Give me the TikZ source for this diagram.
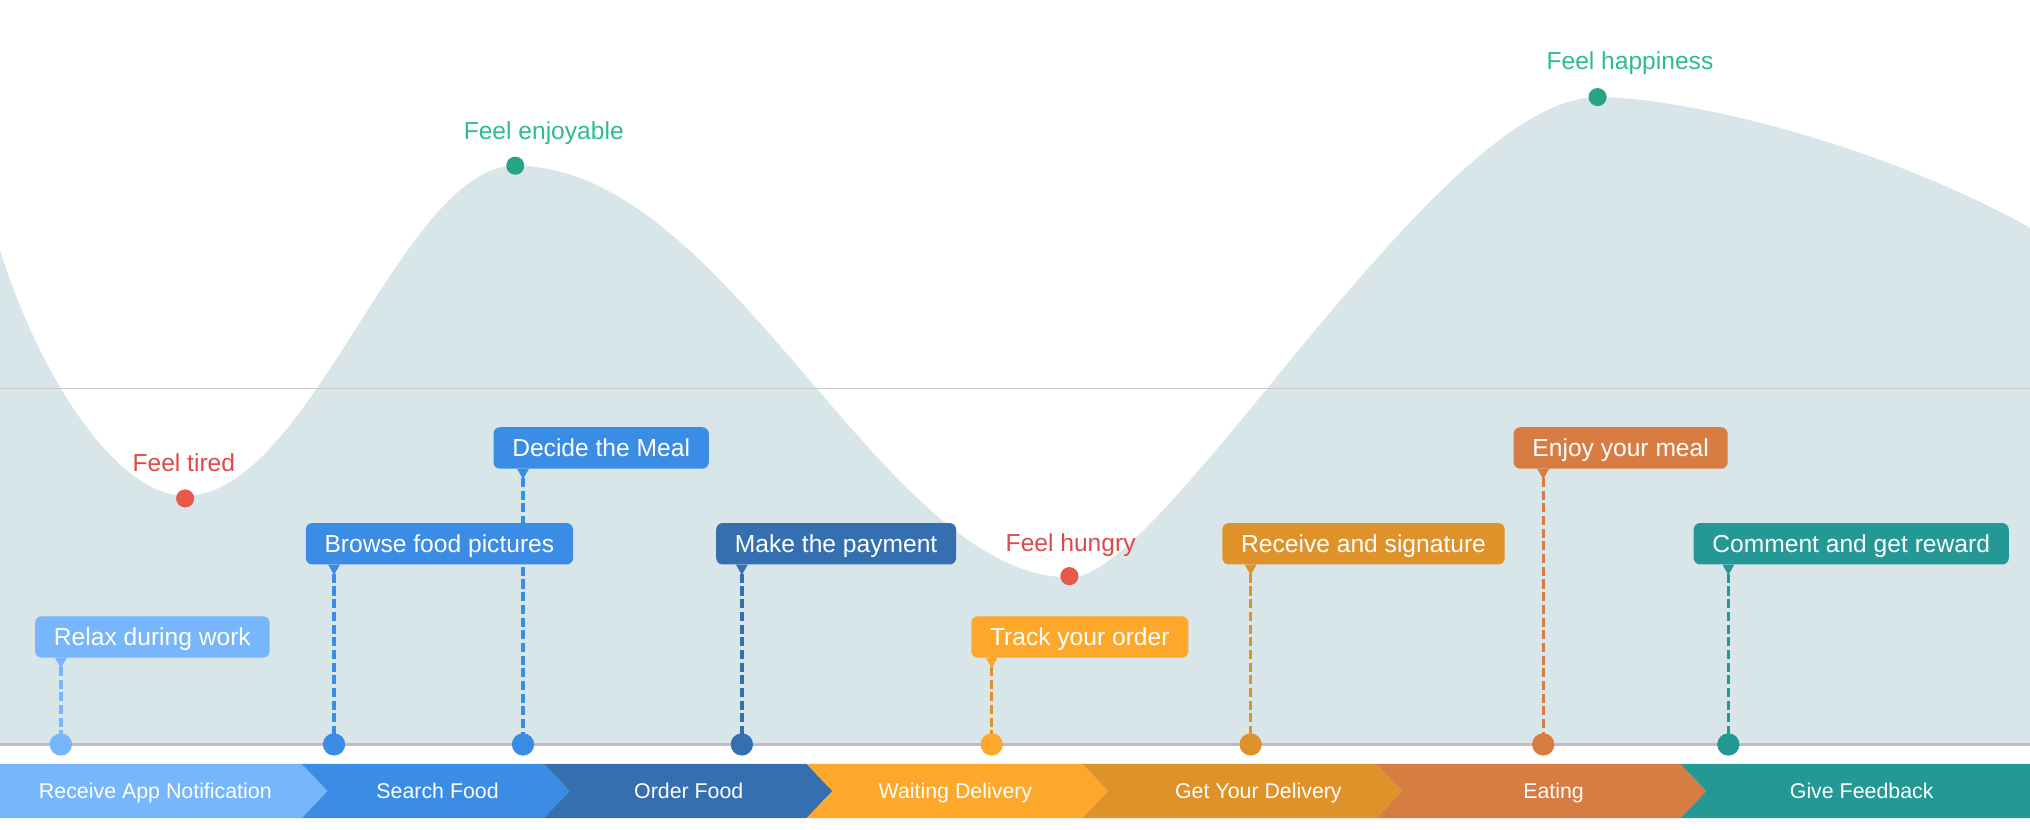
\documentclass[tikz,border=0pt]{standalone}
\usepackage{fontspec}
\setmainfont{Liberation Sans}
\definecolor{cArea}{HTML}{D8E6EA}
\definecolor{cMid}{HTML}{CBC6C9}
\definecolor{cTime}{HTML}{C5B8C2}
\definecolor{cA}{HTML}{77B6FA}
\definecolor{cB}{HTML}{3B8CE5}
\definecolor{cC}{HTML}{356FAF}
\definecolor{cD}{HTML}{FDA82B}
\definecolor{cE}{HTML}{E0922A}
\definecolor{cF}{HTML}{D77C42}
\definecolor{cG}{HTML}{239894}
\definecolor{cRed}{HTML}{E8594A}
\definecolor{cRedT}{HTML}{E04848}
\definecolor{cGreen}{HTML}{26A586}
\definecolor{cGreenT}{HTML}{2EBB92}
\begin{document}
\begin{tikzpicture}[x=1pt,y=-1pt,
  bubble/.style={fill=#1, text=white, rounded corners=5pt, anchor=west,
    minimum height=32pt, inner xsep=14.5pt, inner ysep=0pt,
    text height=13.2pt, text depth=0pt,
    font=\fontsize{19}{22}\selectfont},
  dot/.style={circle, fill=#1, minimum size=17pt, inner sep=0pt},
  vline/.style={draw=#1, line width=2.6pt, dash pattern=on 7pt off 2.8pt},
  bandtext/.style={text=white, anchor=base, font=\fontsize{16.5}{20}\selectfont},
  feel/.style={text=#1, anchor=base, font=\fontsize{19}{22}\selectfont},
]
\useasboundingbox (0,0) rectangle (1568,641);
% emotion area
\fill[cArea] (0,575) -- (0,193)
  .. controls (30,290) and (90,383) .. (143,383)
  .. controls (240,383) and (310,128) .. (398,128)
  .. controls (564,128) and (680,446) .. (827,446)
  .. controls (900,446) and (1110,75) .. (1234,75)
  .. controls (1300,75) and (1450,110) .. (1568,176)
  -- (1568,575) -- cycle;
\draw[cMid, line width=1.2pt] (0,300) -- (1568,300);
\draw[cTime, line width=2.6pt] (0,575) -- (1568,575);

% emotion points
\node[dot=cRed, minimum size=14pt] (e1) at (143,385) {};
\node[feel=cRedT] (t1) at (142,364) {Feel tired};
\node[dot=cGreen, minimum size=14pt] (e2) at (398,128) {};
\node[feel=cGreenT] (t2) at (420,108) {Feel enjoyable};
\node[dot=cRed, minimum size=14pt] (e3) at (826,445) {};
\node[feel=cRedT] (t3) at (827,426) {Feel hungry};
\node[dot=cGreen, minimum size=14pt] (e4) at (1234,75) {};
\node[feel=cGreenT] (t4) at (1259,54) {Feel happiness};

% timeline dots
\node[dot=cA] (d1) at (47,575) {};
\node[dot=cB] (d2) at (258,575) {};
\node[dot=cB] (d3) at (404,575) {};
\node[dot=cC] (d4) at (573,575) {};
\node[dot=cD] (d5) at (766,575) {};
\node[dot=cE] (d6) at (966,575) {};
\node[dot=cF] (d7) at (1192,575) {};
\node[dot=cG] (d8) at (1335,575) {};

% bubbles (Decide first so its line goes behind Browse)
\node[bubble=cB] (b3) at (381,346) {Decide the Meal};
\coordinate (p3) at (d3 |- b3.south);
\draw[vline=cB] ([yshift=-7pt]p3) -- (d3.center);
\fill[cB] ([xshift=-4.5pt]p3) -- ([xshift=4.5pt]p3) -- ([yshift=-8pt]p3) -- cycle;

\node[bubble=cA] (b1) at (27,492) {Relax during work};
\node[bubble=cB] (b2) at (236,420) {Browse food pictures};
\node[bubble=cC] (b4) at (553,420) {Make the payment};
\node[bubble=cD] (b5) at (750,492) {Track your order};
\node[bubble=cE] (b6) at (944,420) {Receive and signature};
\node[bubble=cF] (b7) at (1169,346) {Enjoy your meal};
\node[bubble=cG] (b8) at (1308,420) {Comment and get reward};

\foreach \i/\c/\lc in {1/cA/cA, 2/cB/cB, 4/cC/cC, 5/cD/cE, 6/cE/cE, 7/cF/cF, 8/cG/cG}{
  \coordinate (p\i) at (d\i |- b\i.south);
  \draw[vline=\lc] ([yshift=-7pt]p\i) -- (d\i.center);
  \fill[\c] ([xshift=-4.5pt]p\i) -- ([xshift=4.5pt]p\i) -- ([yshift=-8pt]p\i) -- cycle;
}
% redraw dots above the dashed lines
\foreach \i/\c in {1/cA, 2/cB, 3/cB, 4/cC, 5/cD, 6/cE, 7/cF, 8/cG}{
  \fill[\c] (d\i) circle (8.5pt);
}

% stage band
\fill[cA] (0,590) -- (233,590) -- (253,611) -- (233,632) -- (0,632) -- cycle;
\fill[cB] (233,590) -- (420,590) -- (440,611) -- (420,632) -- (233,632) -- (253,611) -- cycle;
\fill[cC] (420,590) -- (623,590) -- (643,611) -- (623,632) -- (420,632) -- (440,611) -- cycle;
\fill[cD] (623,590) -- (836,590) -- (856,611) -- (836,632) -- (623,632) -- (643,611) -- cycle;
\fill[cE] (836,590) -- (1063,590) -- (1083,611) -- (1063,632) -- (836,632) -- (856,611) -- cycle;
\fill[cF] (1063,590) -- (1298,590) -- (1318,611) -- (1298,632) -- (1063,632) -- (1083,611) -- cycle;
\fill[cG] (1298,590) -- (1568,590) -- (1568,632) -- (1298,632) -- (1318,611) -- cycle;
\node[bandtext] (s1) at (120,617) {Receive App Notification};
\node[bandtext] (s2) at (338,617) {Search Food};
\node[bandtext] (s3) at (532,617) {Order Food};
\node[bandtext] (s4) at (738,617) {Waiting Delivery};
\node[bandtext] (s5) at (972,617) {Get Your Delivery};
\node[bandtext] (s6) at (1200,617) {Eating};
\node[bandtext] (s7) at (1438,617) {Give Feedback};
\end{tikzpicture}
\end{document}
